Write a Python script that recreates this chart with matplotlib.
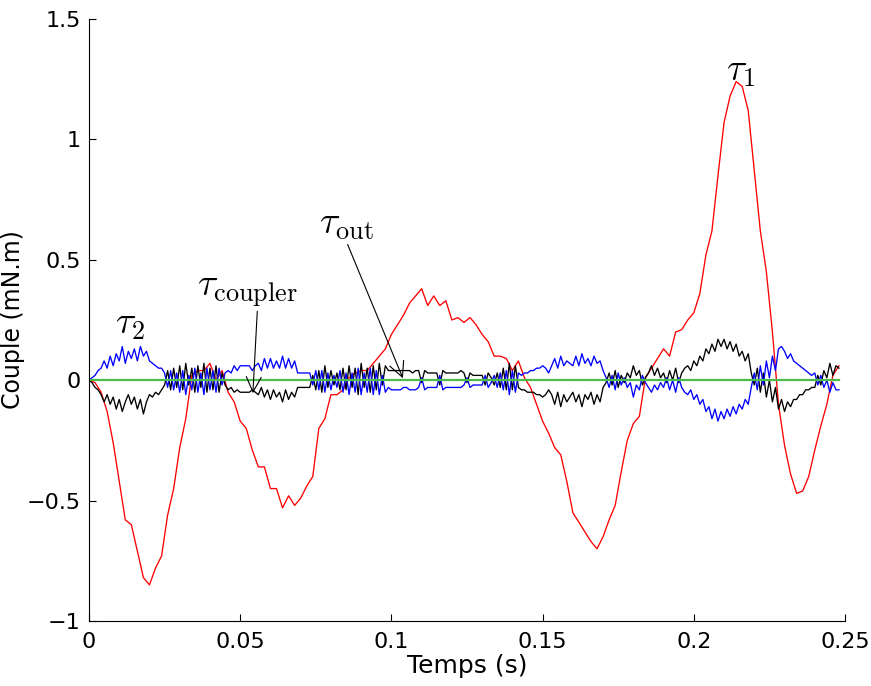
import numpy as np
import matplotlib
matplotlib.use("Agg")
import matplotlib.pyplot as plt

plt.rcParams["mathtext.fontset"] = "cm"

# tau_1 sampled every 2 ms
t_red = np.arange(125) * 0.002
tau1 = [
    0.00, -0.01, -0.05, -0.13, -0.26, -0.42, -0.58, -0.60, -0.71, -0.82,
    -0.85, -0.78, -0.73, -0.56, -0.45, -0.28, -0.16, 0.02, 0.04, 0.04,
    0.07, 0.00, 0.04, -0.05, -0.09, -0.17, -0.20, -0.29, -0.36, -0.36,
    -0.45, -0.45, -0.53, -0.48, -0.52, -0.49, -0.44, -0.40, -0.20, -0.16,
    -0.06, -0.06, -0.04, 0.01, 0.03, 0.04, 0.04, 0.07, 0.10, 0.13,
    0.19, 0.23, 0.27, 0.32, 0.35, 0.38, 0.31, 0.35, 0.31, 0.33,
    0.25, 0.26, 0.24, 0.26, 0.23, 0.19, 0.16, 0.10, 0.10, 0.09,
    0.04, 0.08, 0.01, -0.03, -0.10, -0.17, -0.22, -0.28, -0.31, -0.42,
    -0.55, -0.59, -0.63, -0.67, -0.70, -0.65, -0.58, -0.52, -0.38, -0.25,
    -0.18, -0.15, 0.01, 0.05, 0.09, 0.13, 0.10, 0.20, 0.21, 0.25,
    0.28, 0.36, 0.52, 0.62, 0.85, 1.07, 1.18, 1.24, 1.22, 1.12,
    0.87, 0.62, 0.45, 0.20, -0.10, -0.27, -0.39, -0.47, -0.46, -0.40,
    -0.29, -0.19, -0.10, 0.02, 0.06,
]

# tau_coupler and tau_2 sampled every 1 ms
t = np.arange(249) * 0.001
tau_coupler = [
    0.00, -0.01, -0.03, -0.04, -0.06, -0.09, -0.06, -0.10, -0.07, -0.12,
    -0.08, -0.13, -0.09, -0.06, -0.10, -0.07, -0.12, -0.08, -0.14, -0.09,
    -0.06, -0.07, -0.05, -0.06, -0.04, -0.02, 0.04, -0.04, 0.05, -0.03,
    0.06, -0.04, 0.07, -0.02, 0.05, -0.05, 0.06, -0.03, 0.07, -0.05,
    0.05, -0.04, 0.06, -0.05, 0.03, -0.02, -0.04, -0.03, -0.05, -0.04,
    -0.05, -0.05, -0.05, -0.05, -0.04, -0.05, -0.06, -0.03, -0.07, -0.04,
    -0.08, -0.04, -0.07, -0.05, -0.09, -0.04, -0.08, -0.05, -0.07, -0.03,
    -0.03, -0.03, -0.03, -0.03, 0.02, -0.04, 0.04, -0.05, 0.06, -0.03,
    0.04, -0.02, 0.03, -0.04, 0.05, -0.04, 0.06, -0.03, 0.05, -0.06,
    0.07, -0.03, 0.05, -0.05, 0.06, -0.04, 0.07, -0.02, 0.06, 0.04,
    0.04, 0.04, 0.04, 0.04, 0.04, 0.04, 0.04, 0.03, 0.04, 0.04,
    -0.01, 0.04, 0.03, 0.03, 0.03, 0.03, -0.02, 0.04, 0.03, 0.03,
    0.03, 0.03, 0.03, 0.04, 0.03, -0.01, 0.03, 0.02, 0.02, 0.02,
    0.02, -0.02, 0.03, 0.01, -0.02, 0.03, -0.03, 0.05, -0.04, 0.07,
    -0.04, 0.06, -0.03, -0.04, -0.04, -0.05, -0.05, -0.05, -0.06, -0.06,
    -0.07, -0.06, -0.04, -0.06, -0.10, -0.05, -0.11, -0.06, -0.09, -0.07,
    -0.05, -0.09, -0.06, -0.11, -0.06, -0.08, -0.05, -0.10, -0.06, -0.09,
    -0.03, -0.01, 0.03, -0.02, 0.04, -0.03, 0.02, -0.01, 0.03, 0.01,
    0.06, 0.02, 0.04, -0.02, 0.01, 0.03, 0.06, 0.02, 0.05, 0.01,
    0.03, -0.01, 0.04, 0.00, 0.05, -0.01, 0.03, 0.05, 0.06, 0.04,
    0.08, 0.06, 0.10, 0.08, 0.13, 0.11, 0.15, 0.12, 0.17, 0.14,
    0.17, 0.13, 0.16, 0.12, 0.15, 0.10, 0.12, 0.08, 0.11, 0.03,
    -0.02, 0.05, -0.05, 0.03, -0.07, 0.00, -0.09, -0.03, -0.12, -0.08,
    -0.13, -0.09, -0.11, -0.08, -0.08, -0.06, -0.06, -0.04, -0.04, -0.03,
    -0.03, 0.02, -0.02, 0.04, 0.01, 0.07, 0.02, 0.06, 0.05,
]
tau2 = [
    0.00, 0.01, 0.02, 0.04, 0.05, 0.08, 0.05, 0.10, 0.06, 0.11,
    0.08, 0.14, 0.07, 0.12, 0.09, 0.13, 0.08, 0.14, 0.10, 0.12,
    0.08, 0.07, 0.06, 0.05, 0.05, 0.03, -0.03, 0.04, -0.04, 0.03,
    -0.05, 0.04, -0.06, 0.02, -0.04, 0.05, -0.05, 0.03, -0.06, 0.05,
    -0.04, 0.04, -0.05, 0.05, -0.02, 0.03, 0.04, 0.03, 0.06, 0.04,
    0.06, 0.06, 0.06, 0.06, 0.04, 0.06, 0.07, 0.04, 0.09, 0.05,
    0.09, 0.05, 0.08, 0.05, 0.10, 0.05, 0.09, 0.05, 0.08, 0.03,
    0.03, 0.03, 0.03, 0.03, -0.02, 0.04, -0.04, 0.04, -0.05, 0.03,
    -0.04, 0.02, -0.03, 0.04, -0.05, 0.03, -0.06, 0.03, -0.05, 0.05,
    -0.06, 0.03, -0.05, 0.05, -0.06, 0.04, -0.06, 0.02, -0.05, -0.03,
    -0.04, -0.04, -0.04, -0.04, -0.03, -0.03, -0.04, -0.04, -0.04, -0.03,
    0.01, -0.04, -0.03, -0.03, -0.03, -0.03, 0.02, -0.04, -0.03, -0.03,
    -0.03, -0.03, -0.03, -0.03, -0.02, 0.01, -0.03, -0.02, -0.02, -0.02,
    -0.02, 0.02, -0.03, -0.01, 0.02, -0.03, 0.03, -0.04, 0.04, -0.06,
    0.04, -0.05, 0.03, 0.02, 0.03, 0.03, 0.04, 0.04, 0.05, 0.05,
    0.06, 0.05, 0.03, 0.06, 0.09, 0.05, 0.10, 0.06, 0.08, 0.07,
    0.06, 0.10, 0.06, 0.11, 0.07, 0.09, 0.06, 0.10, 0.07, 0.08,
    0.04, 0.01, -0.03, 0.02, -0.04, 0.03, -0.02, 0.01, -0.03, -0.01,
    -0.07, -0.02, -0.04, 0.02, -0.01, -0.03, -0.05, -0.02, -0.04, -0.01,
    -0.03, 0.01, -0.04, 0.00, -0.05, 0.01, -0.03, -0.05, -0.06, -0.04,
    -0.08, -0.06, -0.10, -0.08, -0.13, -0.11, -0.16, -0.12, -0.17, -0.13,
    -0.16, -0.12, -0.15, -0.11, -0.14, -0.10, -0.12, -0.08, -0.10, -0.03,
    0.03, -0.04, 0.06, -0.02, 0.08, 0.01, 0.10, 0.04, 0.13, 0.14,
    0.12, 0.09, 0.11, 0.08, 0.07, 0.06, 0.05, 0.04, 0.03, 0.02,
    0.03, -0.02, 0.02, -0.03, 0.00, -0.05, -0.01, -0.04, -0.04,
]
# tau_out stays at zero over the whole run
tau_out = np.zeros(len(t))

xticks = [0, 0.05, 0.1, 0.15, 0.2, 0.25]
xticklabels = ["0", "0.05", "0.1", "0.15", "0.2", "0.25"]
yticks = [-1, -0.5, 0, 0.5, 1, 1.5]
yticklabels = ["\u22121", "\u22120.5", "0", "0.5", "1", "1.5"]

fig = plt.figure(figsize=(8.71, 6.86), dpi=100)
ax = fig.add_axes([89 / 871, 65 / 686, 756 / 871, 602 / 686])

ax.plot(t_red, tau1, color="#ff0000", lw=0.95)
ax.plot(t, tau_coupler, color="black", lw=0.95)
ax.plot(t, tau2, color="#0000ff", lw=0.95)
ax.plot(t, tau_out, color="#4cbb4c", lw=1.6)

ax.set_xlim(0, 0.25)
ax.set_ylim(-1, 1.5)
ax.set_xticks(xticks)
ax.set_xticklabels(xticklabels)
ax.set_yticks(yticks)
ax.set_yticklabels(yticklabels)
ax.spines["top"].set_visible(False)
ax.spines["right"].set_visible(False)
ax.tick_params(direction="in", length=5, width=0.8, labelsize=16)
ax.tick_params(axis="x", pad=8)
ax.tick_params(axis="y", pad=6)
ax.set_xlabel("Temps (s)", fontsize=18, labelpad=1)
ax.set_ylabel("Couple (mN.m)", fontsize=17, labelpad=1)

# curve labels
ax.text(0.2106, 1.246, r"$\tau_1$", fontsize=27, va="baseline")
ax.text(0.0086, 0.195, r"$\tau_2$", fontsize=27, va="baseline")
ax.annotate(r"$\tau_{\mathrm{coupler}}$", xy=(0.0542, -0.054), xytext=(0.0357, 0.353),
            fontsize=27, va="baseline",
            arrowprops=dict(arrowstyle="->", lw=0.8, color="black",
                            shrinkA=0, shrinkB=0, relpos=(0.6, 0.0)))
ax.annotate(r"$\tau_{\mathrm{out}}$", xy=(0.1038, 0.008), xytext=(0.0761, 0.61),
            fontsize=27, va="baseline",
            arrowprops=dict(arrowstyle="->", lw=0.8, color="black",
                            shrinkA=0, shrinkB=0, relpos=(0.5, 0.0)))

fig.savefig("out.png", dpi=100)
